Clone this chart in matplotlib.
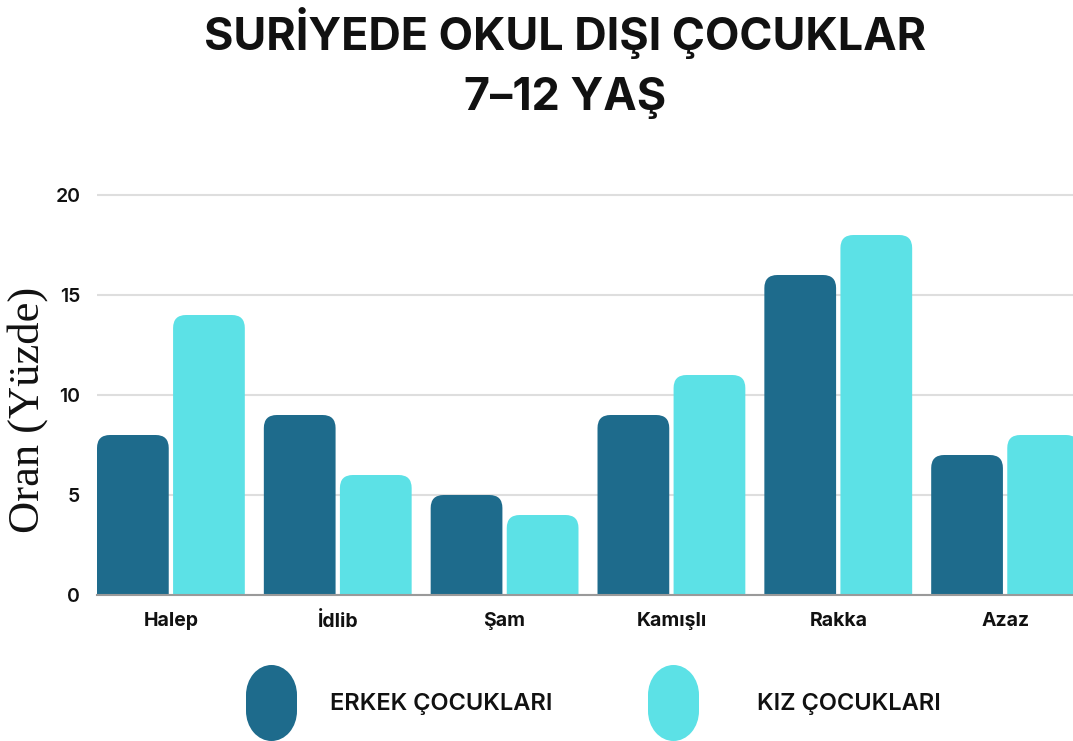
import matplotlib
matplotlib.use("Agg")
import matplotlib.pyplot as plt
from matplotlib.patches import FancyBboxPatch, Ellipse, Rectangle
import numpy as np

categories = ["Halep", "İdlib", "Şam", "Kamışlı", "Rakka", "Azaz"]
erkek = [8, 9, 5, 9, 16, 7]
kiz = [14, 6, 4, 11, 18, 8]
series_labels = ["ERKEK ÇOCUKLARI", "KIZ ÇOCUKLARI"]
yticks = [0, 5, 10, 15, 20]

c_dark = "#1e6b8c"
c_light = "#5ce1e6"

W, H = 1073, 741
fig = plt.figure(figsize=(W / 100, H / 100), dpi=100)
fig.patch.set_facecolor("white")

ax_left, ax_right = 97 / W, 1.0
ax_bottom = (H - 595) / H
ax_top = (H - 185) / H
ax = fig.add_axes([ax_left, ax_bottom, ax_right - ax_left, ax_top - ax_bottom])

x = np.arange(len(categories))
bw = 0.43
off = 0.228
xlim = (-0.443, 5.407)
ylim = (0, 20.5)
ax.set_xlim(*xlim)
ax.set_ylim(*ylim)

# pixel scales for rounding
px_per_x = (W * (ax_right - ax_left)) / (xlim[1] - xlim[0])
px_per_y = (H * (ax_top - ax_bottom)) / (ylim[1] - ylim[0])
aspect = px_per_x / px_per_y
r = 13 / px_per_x

bars1 = ax.bar(x - off, erkek, bw, color=c_dark)
bars2 = ax.bar(x + off, kiz, bw, color=c_light)
for bars, col in ((bars1, c_dark), (bars2, c_light)):
    for b in bars:
        b.set_visible(False)
        x0, w, h = b.get_x(), b.get_width(), b.get_height()
        p = FancyBboxPatch((x0, -1), w, h + 1,
                           boxstyle=f"round,pad=0,rounding_size={r}",
                           mutation_aspect=aspect, fc=col, ec="none",
                           zorder=3, clip_on=True)
        ax.add_patch(p)

ax.set_yticks(yticks)
ax.set_yticklabels([str(v) for v in yticks])
ax.yaxis.grid(True, color="#dedede", lw=1.5, zorder=0)
ax.set_axisbelow(True)
for s in ("top", "right", "left"):
    ax.spines[s].set_visible(False)
ax.spines["bottom"].set_color("#9a9a9a")
ax.spines["bottom"].set_linewidth(1.5)
ax.spines["bottom"].set_zorder(4)
ax.tick_params(axis="y", length=0, pad=12, labelsize=14, labelcolor="#111111")
ax.tick_params(axis="x", length=0, pad=12, labelsize=14, labelcolor="#111111")
for t in ax.get_yticklabels():
    t.set_fontfamily("Inter")
    t.set_fontweight("semibold")
ax.set_xticks(x)
ax.set_xticklabels(categories, fontfamily="Inter", fontweight="bold")

fig.text(28 / W, 1 - 410 / H, "Oran (Yüzde)", rotation=90, ha="center", va="center",
         fontfamily="Liberation Serif", fontsize=32, color="#111111")

fig.text(565 / W, 1 - 33 / H, "SURİYEDE OKUL DIŞI ÇOCUKLAR", ha="center", va="center",
         fontfamily="Inter", fontweight="bold", fontsize=32.3, color="#111111")
fig.text(565 / W, 1 - 98 / H, "7–12 YAŞ", ha="center", va="center",
         fontfamily="Inter", fontweight="bold", fontsize=32.3, color="#111111")

# legend: stadium-shaped swatches
for (px0, col, lab, tx) in ((246, c_dark, series_labels[0], 330),
                            (648, c_light, series_labels[1], 757)):
    pw, top, bot, ry = 51, 665, 741, 30
    cx = (px0 + pw / 2) / W
    for cy in (top + ry, bot - ry):
        fig.patches.append(Ellipse((cx, 1 - cy / H), pw / W, 2 * ry / H,
                                   transform=fig.transFigure, fc=col, ec="none"))
    fig.patches.append(Rectangle((px0 / W, 1 - (bot - ry) / H), pw / W,
                                 (bot - top - 2 * ry) / H,
                                 transform=fig.transFigure, fc=col, ec="none"))
    fig.text(tx / W, 1 - 704 / H, lab, ha="left", va="center",
             fontfamily="Inter", fontweight="semibold", fontsize=17, color="#111111")

fig.savefig("out.png", dpi=100)
